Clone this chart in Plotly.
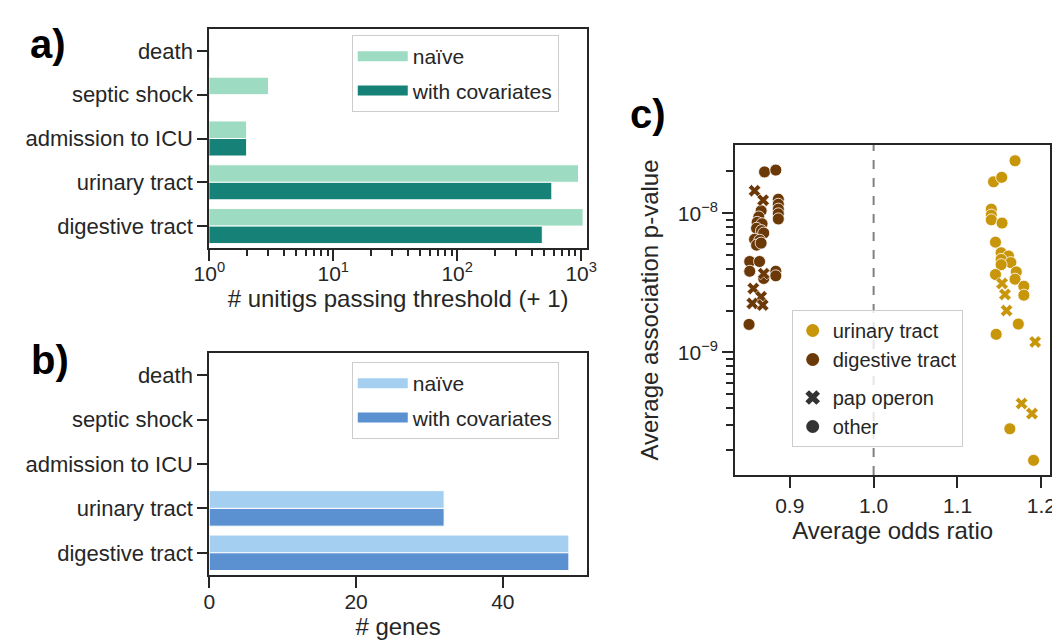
import plotly.graph_objects as go

# ---------------- data ----------------
categories = ["death", "septic shock", "admission to ICU", "urinary tract", "digestive tract"]
# panel a: number of unitigs passing threshold (+1)
unitigs_naive = [1, 3, 2, 952, 1037]
unitigs_cov = [1, 1, 2, 580, 486]
# panel b: number of genes
genes_naive = [0, 0, 0, 32, 49]
genes_cov = [0, 0, 0, 32, 49]

# panel c: odds ratio / p-value per gene
uri_other_or = [1.1686, 1.1430, 1.1527, 1.1403, 1.1403, 1.1403, 1.1531, 1.1453, 1.1520, 1.1608,
                1.1520, 1.1636, 1.1520, 1.1701, 1.1453, 1.1686, 1.1791, 1.1791, 1.1725, 1.1461,
                1.1624, 1.1907]
uri_other_p = [2.38e-8, 1.68e-8, 1.81e-8, 1.07e-8, 9.7e-9, 8.96e-9, 8.5e-9, 6.2e-9, 5.2e-9, 4.93e-9,
               4.66e-9, 4.42e-9, 4.27e-9, 3.79e-9, 3.63e-9, 3.36e-9, 2.99e-9, 2.58e-9, 1.6e-9, 1.35e-9,
               2.83e-10, 1.68e-10]
uri_pap_or = [1.1531, 1.1566, 1.1585, 1.1926, 1.1764, 1.1888]
uri_pap_p = [3.13e-9, 2.61e-9, 2.0e-9, 1.19e-9, 4.3e-10, 3.64e-10]

dig_other_or = [0.8700, 0.8834, 0.8864, 0.8864, 0.8864, 0.8864, 0.8864, 0.8659, 0.8631, 0.8612,
                0.8670, 0.8605, 0.8663, 0.8690, 0.8581, 0.8643, 0.8605, 0.8659, 0.8523, 0.8640,
                0.8523, 0.8690, 0.8834, 0.8834, 0.8515]
dig_other_p = [1.98e-8, 2.04e-8, 1.26e-8, 1.16e-8, 1.07e-8, 9.9e-9, 9.1e-9, 1.04e-8, 9.4e-9, 8.6e-9,
               8.4e-9, 7.8e-9, 7.5e-9, 7.2e-9, 6.5e-9, 6.4e-9, 5.9e-9, 6.1e-9, 4.5e-9, 4.5e-9,
               3.83e-9, 3.4e-9, 3.83e-9, 3.55e-9, 1.59e-9]
dig_pap_or = [0.8581, 0.8683, 0.8690, 0.8566, 0.8659, 0.8554, 0.8678]
dig_pap_p = [1.45e-8, 1.24e-8, 3.68e-9, 2.88e-9, 2.51e-9, 2.25e-9, 2.19e-9]

# ---------------- style ----------------
FONT = "Liberation Sans, Arial, sans-serif"
INK = "#262626"
TEAL_L, TEAL_D = "#9ddcc2", "#168277"
BLUE_L, BLUE_D = "#a5cff0", "#5b91d1"
GOLD, BROWN = "#c8960b", "#6b3807"
W, H = 1060, 640


def px_x(a, b):
    return [a / W, b / W]


def px_y(top, bottom):
    return [1 - bottom / H, 1 - top / H]


fig = go.Figure()

bar_line = dict(color="white", width=1)
fig.add_trace(go.Bar(y=categories, x=unitigs_naive, orientation="h", name="naïve", showlegend=False,
                     marker=dict(color=TEAL_L, line=bar_line), xaxis="x", yaxis="y"))
fig.add_trace(go.Bar(y=categories, x=unitigs_cov, orientation="h", name="with covariates", showlegend=False,
                     marker=dict(color=TEAL_D, line=bar_line), xaxis="x", yaxis="y"))
fig.add_trace(go.Bar(y=categories, x=genes_naive, orientation="h", name="naïve", showlegend=False,
                     marker=dict(color=BLUE_L, line=bar_line), xaxis="x2", yaxis="y2"))
fig.add_trace(go.Bar(y=categories, x=genes_cov, orientation="h", name="with covariates", showlegend=False,
                     marker=dict(color=BLUE_D, line=bar_line), xaxis="x2", yaxis="y2"))

# wide rectangular legend swatches for the bar panels
for name, col, xa, ya, lg in [("naïve", TEAL_L, "x", "y", "legend"), ("with covariates", TEAL_D, "x", "y", "legend"),
                              ("naïve", BLUE_L, "x2", "y2", "legend2"),
                              ("with covariates", BLUE_D, "x2", "y2", "legend2")]:
    fig.add_trace(go.Scatter(x=[None], y=[None], mode="lines", name=name, legend=lg,
                             legendgroup=name + lg, line=dict(color=col, width=14), xaxis=xa, yaxis=ya))

circ = dict(symbol="circle", size=12, line=dict(color="white", width=0.8))
cross = dict(symbol="x", size=11, line=dict(color="white", width=0.6))
for xs, ys, col, m in [(uri_other_or, uri_other_p, GOLD, circ), (uri_pap_or, uri_pap_p, GOLD, cross),
                       (dig_other_or, dig_other_p, BROWN, circ), (dig_pap_or, dig_pap_p, BROWN, cross)]:
    fig.add_trace(go.Scatter(x=xs, y=ys, mode="markers", marker=dict(color=col, **m),
                             xaxis="x3", yaxis="y3", showlegend=False))

# legend-only entries for panel c
for name, col, sym, grp in [("urinary tract", GOLD, "circle", "hue"), ("digestive tract", BROWN, "circle", "hue"),
                            ("pap operon", "#333333", "x", "style"), ("other", "#333333", "circle", "style")]:
    fig.add_trace(go.Scatter(x=[None], y=[None], mode="markers", name=name, legendgroup=grp,
                             marker=dict(color=col, symbol=sym, size=13, line=dict(width=0)),
                             xaxis="x3", yaxis="y3", legend="legend3"))

fig.add_shape(type="line", x0=1.0, x1=1.0, y0=0, y1=1, xref="x3", yref="y3 domain",
              line=dict(color="#808080", width=2, dash="dash"), layer="below")

axis_common = dict(showline=True, mirror=True, linewidth=2, linecolor=INK, ticks="outside",
                   ticklen=11, tickwidth=2, tickcolor=INK, showgrid=False, zeroline=False,
                   tickfont=dict(size=21, color=INK, family=FONT))

minor_log_a = [m * 10 ** d for d in range(0, 3) for m in range(2, 10)]
minor_log_c = [m * 10 ** d for d in (-10, -9, -8) for m in range(2, 10) if m * 10 ** d < 3e-8]

leg_common = dict(xanchor="left", yanchor="top", bgcolor="rgba(255,255,255,0.8)",
                  bordercolor="#cccccc", borderwidth=1)

fig.update_layout(
    width=W, height=H, margin=dict(l=0, r=0, t=0, b=0),
    paper_bgcolor="white", plot_bgcolor="white",
    font=dict(family=FONT, color=INK, size=21),
    barmode="group", bargap=0.2, bargroupgap=0.0,
    xaxis=dict(axis_common, type="log", domain=px_x(190, 577), anchor="y", range=[0, 3.046],
               tickvals=[1, 10, 100, 1000],
               ticktext=["10<sup>0</sup>", "10<sup>1</sup>", "10<sup>2</sup>", "10<sup>3</sup>"],
               ticklabelstandoff=-5,
               minor=dict(tickvals=minor_log_a, ticks="outside", ticklen=6, tickwidth=1.5, tickcolor=INK),
               title=dict(text="# unitigs passing threshold (+ 1)", font=dict(size=24), standoff=6)),
    yaxis=dict(axis_common, domain=px_y(21, 240), anchor="x", type="category",
               categoryorder="array", categoryarray=categories, range=[4.5, -0.5], ticklen=10,
               tickfont=dict(size=22, color=INK, family=FONT)),
    xaxis2=dict(axis_common, domain=px_x(190, 577), anchor="y2", range=[0, 51.45],
                tickvals=[0, 20, 40], ticklabelstandoff=-4,
                title=dict(text="# genes", font=dict(size=24), standoff=0)),
    yaxis2=dict(axis_common, domain=px_y(345, 567), anchor="x2", type="category",
                categoryorder="array", categoryarray=categories, range=[4.5, -0.5], ticklen=10,
                tickfont=dict(size=22, color=INK, family=FONT)),
    xaxis3=dict(axis_common, domain=px_x(729, 1052), anchor="y3", range=[0.8349, 1.2105],
                tickvals=[0.9, 1.0, 1.1, 1.2], ticktext=["0.9", "1.0", "1.1", "1.2"],
                title=dict(text="Average odds ratio", font=dict(size=24), standoff=4)),
    yaxis3=dict(axis_common, type="log", domain=px_y(137, 467), anchor="x3", range=[-9.88, -7.51],
                tickvals=[1e-9, 1e-8], ticktext=["10<sup>−9</sup>", "10<sup>−8</sup>"],
                minor=dict(tickvals=minor_log_c, ticks="outside", ticklen=7, tickwidth=1.5, tickcolor=INK),
                title=dict(text="Average association p-value", font=dict(size=24), standoff=12)),
    legend=dict(leg_common, x=336 / W, y=1 - 27 / H, font=dict(size=21, color=INK),
                itemwidth=50, tracegroupgap=4),
    legend2=dict(leg_common, x=336 / W, y=1 - 354 / H, font=dict(size=21, color=INK),
                 itemwidth=50, tracegroupgap=4),
    legend3=dict(leg_common, x=787 / W, y=1 - 302 / H, font=dict(size=20, color=INK),
                 itemwidth=30, tracegroupgap=9),
)

for txt, x, y in [("a)", 25, 36), ("b)", 27, 352), ("c)", 640, 106)]:
    fig.add_annotation(text=f"<b>{txt}</b>", x=x / W, y=1 - y / H, xref="paper", yref="paper",
                       showarrow=False, xanchor="center", yanchor="middle",
                       font=dict(size=40, family=FONT, color="black"))

fig.write_html("out.html")
